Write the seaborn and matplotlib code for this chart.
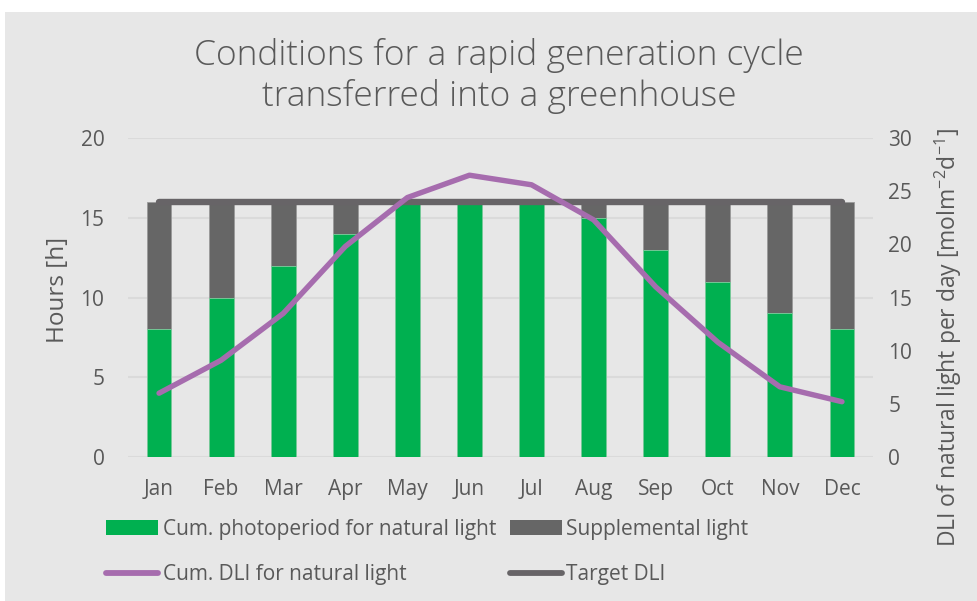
import numpy as np
import pandas as pd
import matplotlib
matplotlib.use("Agg")
import matplotlib.pyplot as plt
import matplotlib.patches as mpatches
import matplotlib.lines as mlines
from matplotlib.font_manager import FontProperties
import seaborn as sns

months = ["Jan", "Feb", "Mar", "Apr", "May", "Jun", "Jul", "Aug", "Sep", "Oct", "Nov", "Dec"]
natural_hours = [8, 10, 12, 14, 16, 16, 16, 15, 13, 11, 9, 8]
total_hours = [16, 16, 16, 16, 16, 16, 16, 16, 16, 16, 16, 16]
dli_natural = [6.0, 9.1, 13.5, 19.8, 24.4, 26.5, 25.6, 22.3, 16.0, 10.8, 6.6, 5.2]
target_dli = [24, 24, 24, 24, 24, 24, 24, 24, 24, 24, 24, 24]

sns.set_theme(style="white")
FAM = ['Open Sans', 'DejaVu Sans']
plt.rcParams['font.family'] = FAM
plt.rcParams['mathtext.fontset'] = 'custom'
plt.rcParams['mathtext.rm'] = 'Open Sans'
plt.rcParams['mathtext.it'] = 'Open Sans'

GREEN = "#00B050"
GRAY = "#666666"
PURPLE = "#A66CAE"
TARGET = "#676467"
BG = "#E7E7E7"
GRID = "#DADADA"
TXT = "#595959"

fig = plt.figure(figsize=(9.78, 6.01), dpi=100, facecolor="white")
fig.patches.append(mpatches.Rectangle((5/978, 0), 1, (601-12)/601, transform=fig.transFigure,
                                      facecolor=BG, edgecolor="none", zorder=-10))
ax = fig.add_axes([128/978, (601-457)/601, (873-128)/978, (457-138)/601])
ax.set_facecolor(BG)
ax.patch.set_alpha(0)

df = pd.DataFrame({"month": months, "natural": natural_hours, "total": total_hours})
sns.barplot(data=df, x="month", y="total", color=GRAY, width=0.4, ax=ax,
            saturation=1, edgecolor="#9A9A9A", linewidth=0.6, zorder=2)
sns.barplot(data=df, x="month", y="natural", color=GREEN, width=0.4, ax=ax,
            saturation=1, edgecolor="#7FD0A0", linewidth=0.6, zorder=3)
ax.set_ylim(0, 20)
ax.set_xlim(-0.5, 11.5)
ax.set_yticks([0, 5, 10, 15, 20])
ax.yaxis.grid(True, color=GRID, linewidth=1.5, zorder=0)
ax.set_axisbelow(True)
for s in ax.spines.values():
    s.set_visible(False)
ax.tick_params(axis="both", length=0, colors=TXT, labelsize=15)
ax.tick_params(axis="y", pad=17)
ax.tick_params(axis="x", pad=16)
ax.set_xlabel("")
ax.set_ylabel("Hours [h]", color=TXT, fontsize=17.5)
ax.yaxis.set_label_coords((70 - 128) / 745, (457 - 290) / 319)

ax2 = ax.twinx()
xs = np.arange(len(months))
sns.lineplot(x=xs, y=target_dli, ax=ax2, color=TARGET, linewidth=4.6, zorder=4,
             solid_capstyle="round")
sns.lineplot(x=xs, y=dli_natural, ax=ax2, color=PURPLE, linewidth=3.9, zorder=5,
             solid_capstyle="round")
ax2.set_ylim(0, 30)
ax2.set_yticks([0, 5, 10, 15, 20, 25, 30])
for s in ax2.spines.values():
    s.set_visible(False)
ax2.tick_params(axis="y", length=0, colors=TXT, labelsize=15, pad=11)
ax2.set_ylabel("DLI of natural light per day [molm$^{-2}$d$^{-1}$]", color=TXT,
               fontsize=16.5)
ax2.yaxis.set_label_coords((933 - 128) / 745, (457 - 338) / 319)

title_fp = FontProperties(family=FAM, size=25.5, weight='light')
fig.text(499/978, 1 - 76/601, "Conditions for a rapid generation cycle\ntransferred into a greenhouse",
         ha="center", va="center", fontproperties=title_fp, color=TXT, linespacing=1.2)

leg_fp = FontProperties(family=FAM, size=15)
h1 = mpatches.Patch(facecolor=GREEN, edgecolor="none")
h2 = mpatches.Patch(facecolor=GRAY, edgecolor="none")
h3 = mlines.Line2D([], [], color=PURPLE, linewidth=4.2, solid_capstyle="round")
h4 = mlines.Line2D([], [], color=TARGET, linewidth=4.2, solid_capstyle="round")
leg = fig.legend([h1, h3, h2, h4],
                 ["Cum. photoperiod for natural light", "Cum. DLI for natural light",
                  "Supplemental light", "Target DLI"],
                 loc="upper left", bbox_to_anchor=(106/978, 1 - 519/601), ncol=2,
                 frameon=False, prop=leg_fp, handlelength=2.5, handleheight=0.7,
                 handletextpad=0.22, columnspacing=0.65, labelspacing=1.15, borderaxespad=0,
                 borderpad=0)
for t in leg.get_texts():
    t.set_color(TXT)

fig.savefig("out.png", dpi=100, facecolor="white")
